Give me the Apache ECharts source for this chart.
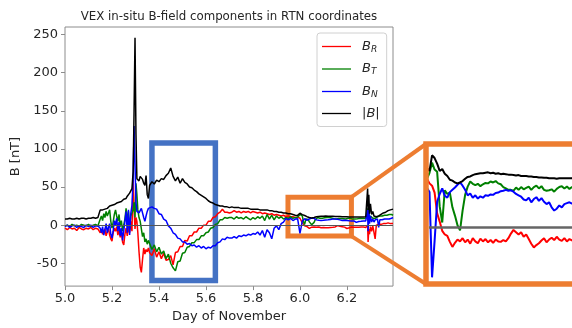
<!DOCTYPE html>
<html><head><meta charset="utf-8">
<script src="https://cdn.jsdelivr.net/npm/echarts@6/dist/echarts.min.js"></script>
<style>html,body{margin:0;padding:0;background:#fff}#c{width:572px;height:328px}</style>
</head><body><div id="c"></div>
<script>
// ---- data ----
const days = [
  5.00,5.01,5.02,5.03,5.04,5.05,5.06,5.07,5.08,5.09,5.10,5.11,5.12,5.13,5.14,
  5.150,5.155,5.160,5.165,5.170,5.175,5.180,5.185,5.190,5.195,5.200,5.205,5.210,5.215,5.220,5.225,5.230,5.235,5.240,5.245,5.250,5.255,5.260,5.265,5.270,5.275,5.280,5.285,
  5.290,5.294,5.298,5.302,5.306,5.310,5.315,5.320,5.325,5.330,5.335,5.340,5.345,5.350,5.355,
  5.36,5.37,5.38,5.39,5.40,5.41,5.42,5.43,5.44,5.45,5.46,5.47,5.48,5.49,5.50,5.51,5.52,5.53,5.54,5.55,5.56,5.57,5.58,5.59,5.60,5.61,5.62,5.63,5.64,5.65,5.66,5.67,5.68,5.69,5.70,
  5.71,5.72,5.73,5.74,5.75,5.76,5.77,5.78,5.79,5.80,5.81,5.82,5.83,5.84,5.85,5.86,5.87,5.88,5.89,5.90,5.91,5.92,5.93,5.94,5.95,5.96,5.97,5.98,
  5.990,5.995,6.000,6.005,6.010,6.015,6.020,6.025,6.030,6.035,6.040,6.045,6.050,6.055,6.060,6.065,6.070,6.075,6.080,6.085,6.090,6.095,6.100,6.105,6.110,6.115,6.120,6.125,6.130,6.135,6.140,6.145,6.150,6.155,6.160,6.165,6.170,6.175,6.180,6.185,6.190,6.195,6.200,6.205,6.210,6.215,6.220,6.225,6.230,6.235,6.240,6.245,6.250,6.255,6.260,6.265,6.270,6.275,
  6.280,6.285,6.288,6.290,6.293,6.296,6.300,6.305,6.310,6.315,6.320,6.325,6.330,6.335,6.340,6.345,6.350,6.355,6.360,6.365,6.370,6.375,6.380,6.385,6.390,6.396
];
const bR = [
  -4,-6,-3,-5,-4,-7,-3,-5,-6,-4,-5,-3,-6,-4,-5,
  -10,-6,-12,-8,-5,-14,-9,-4,-13,-18,-21,-10,-4,-8,-2,-13,-6,-16,-8,-22,-26,-12,-4,-14,-2,-10,5,-8,
  60,20,-5,10,5,-10,-35,-55,-62,-45,-30,-38,-32,-35,-30,
  -36,-40,-31,-42,-35,-44,-37,-46,-45,-40,-52,-36,-35,-28,-28,-20,-21,-14,-14,-9,-9,-4,-4,0,0,5,5,10,11,15,17,21,17,17,16,
  17,19,17,18,16,18,17,18,16,18,17,16,17,15,16,15,14,15,13,14,13,12,13,11,12,11,11,10,
  10.5,9.5,9,7.5,3,1.2,-0.8,-1.6,-1.9,-3.2,-4.3,-3.4,-2.7,-3.1,-2.4,-3.3,-2.7,-3.6,-2.4,-3.1,-3.5,-2.5,-3.1,-2.6,-3.3,-2.8,-3.4,-2.7,-3.1,-3.2,-2.8,-3.1,-2.4,-1.4,-0.6,-1.1,-1.6,-1.1,-2.1,-1.6,-2.6,-3.6,-4.4,-3.9,-3.5,-2.9,-2.4,-3.3,-2.7,-2.3,-2.8,-2.1,-2.7,-3,-2.4,-3.1,-2.6,-2.9,
  -3,-4,0,-22,-5,-12,-2,-8,-1,-3,-18,0,-2,1,-1,1,0,2,1,2,1,3,2,2,3,2
];
const bT = [
  -1,0,-2,1,-1,0,-2,1,0,-1,1,-2,0,1,-1,
  8,12,6,15,10,18,12,16,20,5,-4,4,14,20,12,5,14,-2,6,-8,-10,8,22,4,18,-6,12,16,
  20,30,10,55,40,20,10,5,-5,-15,-10,-22,-18,-25,-20,
  -22,-32,-26,-35,-29,-38,-34,-44,-38,-50,-56,-60,-48,-47,-37,-36,-29,-28,-23,-23,-19,-19,-14,-14,-10,-9,-4,-3,1,2,7,7,10,9,10,
  10,8,11,9,10,8,11,9,7,10,8,11,9,12,6,14,8,13,7,12,9,11,8,10,9,11,9,10,
  10.5,11.8,14,12.5,12,4.5,1,8,7.2,7.5,4.3,2.5,0.4,-0.7,3.6,7,8.8,9.9,9.4,9.1,9.4,8.9,9.3,9.6,9.5,9.9,9.7,10,9.5,9.3,8.7,8.4,8.1,8.1,7.9,8.6,8.1,8.7,8.2,8.5,8.8,8.1,8.7,9,8.4,8.9,8.1,7.9,8,8.2,7.7,8.3,8.7,8.9,8.4,8.8,8.3,8.7,
  8.5,10,22,5,18,8,12,10,9,11,9,10,11,10,12,11,12,11,13,12,13,12,14,13,14,13
];
const bN = [
  -2,0,-3,-1,0,-3,-1,-2,-3,0,-2,0,-3,-1,-1,
  -4,-10,-2,-13,-6,2,-10,-3,2,-12,-17,-8,6,0,9,-8,4,-14,-4,-20,-21,5,18,-10,20,-13,15,26,
  60,130,80,30,18,20,16,18,22,20,10,5,12,18,22,
  20,24,22,21,15,14,8,6,-1,-4,-10,-12,-17,-18,-22,-22,-25,-24,-27,-26,-29,-27,-30,-28,-31,-29,-30,-27,-27,-23,-22,-18,-19,-16,-17,
  -17,-15,-17,-14,-15,-13,-14,-12,-13,-11,-12,-9,-13,-7,-16,-6,-10,-18,-4,-1,-6,2,4,9,7,9,6,8,
  8.5,7.6,-10.9,-3,5.5,7.2,8.4,6.8,6.4,7.6,8.1,8.6,9.2,9.7,9,8.1,6.9,7.3,6.4,6.9,6.2,6.7,6.4,6.9,6.8,7.1,7,7.4,7.5,7.8,7.9,8.1,7.9,8,7.7,7.2,6.9,6.6,6,5.8,6.4,5.4,6.1,6.5,5.7,6.3,5.5,5,5.4,4.3,3.6,4,4.7,4.3,5,5.2,5.4,5.1,
  5.5,6,20,-8,22,2,12,4,8,4,7,6,8,-3,7,8,7,9,8,9,8,9,8,10,9,10
];
const bMag = [
  8,8,9,8,8,9,8,9,9,8,9,9,10,9,10,
  20,21,20,22,21,23,22,24,25,24,26,25,27,26,29,28,30,32,31,33,34,33,35,38,36,42,40,48,
  70,150,246,120,61,60,58,64,65,60,55,52,65,40,35,
  52,57,54,59,57,61,60,65,68,75,64,58,63,55,61,56,54,50,49,46,44,41,39,37,35,32,30,29,27,26,25,25,24,24,23,
  24,23,23,23,22,22,22,22,21,21,21,21,20,20,20,20,19,19,18,18,17,17,16,16,15,15,14,13,
  12.8,12.2,15.6,15,13.8,12.2,12.6,11.6,11.1,10.3,10.1,9.7,9.5,9.7,10,10.5,10.9,11,11.3,11.5,11.6,11.7,11.7,11.8,11.9,11.7,11.8,11.6,11.7,11.5,11.6,11.5,11.4,11.4,11.3,11.2,11.3,11.1,11.1,11.1,11,11,10.9,10.9,10.8,10.8,10.7,10.7,10.6,10.6,10.6,10.5,10.6,10.6,10.6,10.6,10.6,10.6,
  11,13,48,20,40,15,28,14,18,12,13,11,10,12,13,14,15,16,17,17,18,19,19,20,21,21
];
const seriesNames = ['BR', 'BT', 'BN', '|B|'];
const seriesValues = [bR, bT, bN, bMag];
const xTicks = [5.0, 5.2, 5.4, 5.6, 5.8, 6.0, 6.2];
const yTicks = [-50, 0, 50, 100, 150, 200, 250];
const xRange = [5.0, 6.396];
const yRange = [-80, 260];
const insetXRange = [5.994, 6.275];
const insetYRange = [-11.7, 17.4];
// annotation rectangles in data coordinates [x0, y0, x1, y1]
const blueBox = [5.37, 107.7, 5.64, -72.5];
const orangeBox = [5.949, 36.6, 6.219, -14.4];

[bR, bT, bN, bMag].forEach((a, i) => { if (a.length !== days.length) console.error('length mismatch', i, a.length, days.length); });

// ---- styles ----
const colors = ['#ff0000', '#008000', '#0000ff', '#000000'];
const FONT = 'DejaVu Sans';
const TXT = '#262626';
const SPINE = '#8c8c8c';
const BLUE_BOX = '#4472c4';
const ORANGE = '#ed7d31';
const mainGrid = { left: 65, top: 27, width: 328, height: 261 };
const insetGrid = { left: 429, top: 147, width: 143, height: 134 };

const chart = echarts.init(document.getElementById('c'), null, { renderer: 'canvas' });

const mainSeries = seriesNames.map((n, k) => ({
  name: n, type: 'line', xAxisIndex: 0, yAxisIndex: 0,
  data: days.map((d, i) => [d, seriesValues[k][i]]),
  symbol: 'none', showSymbol: false, clip: true,
  lineStyle: { color: colors[k], width: 1.5 }, itemStyle: { color: colors[k] },
  z: 2 + k,
  markLine: k === 3 ? { silent: true, symbol: ['none', 'none'], label: { show: false },
    lineStyle: { color: '#555', width: 1, type: 'solid' }, data: [{ yAxis: 0 }] } : undefined
}));
const insetSeries = seriesNames.map((n, k) => ({
  name: n, type: 'line', xAxisIndex: 1, yAxisIndex: 1,
  data: days.map((d, i) => [d, seriesValues[k][i]]),
  symbol: 'none', showSymbol: false, clip: true,
  lineStyle: { color: colors[k], width: 2 }, itemStyle: { color: colors[k] },
  z: 2 + k,
  markLine: k === 3 ? { silent: true, symbol: ['none', 'none'], label: { show: false },
    lineStyle: { color: '#666', width: 2.5, type: 'solid' }, data: [{ yAxis: 0 }] } : undefined
}));
const boxSeries = {
  name: 'boxes', type: 'line', xAxisIndex: 0, yAxisIndex: 0, data: [], z: 10, silent: true,
  markArea: { silent: true, label: { show: false }, data: [
    [{ coord: [blueBox[0], blueBox[1]], itemStyle: { color: 'rgba(0,0,0,0)', borderColor: BLUE_BOX, borderWidth: 5.5 } },
     { coord: [blueBox[2], blueBox[3]] }],
    [{ coord: [orangeBox[0], orangeBox[1]], itemStyle: { color: 'rgba(0,0,0,0)', borderColor: ORANGE, borderWidth: 5 } },
     { coord: [orangeBox[2], orangeBox[3]] }]
  ] }
};

const labelMap = { 'BR': '{b|B}{s|R}', 'BT': '{b|B}{s|T}', 'BN': '{b|B}{s|N}', '|B|': '|{b|B}|' };

chart.setOption({
  animation: false,
  backgroundColor: '#fff',
  legend: {
    data: seriesNames.map(n => ({ name: n, icon: 'rect' })),
    orient: 'vertical', left: 317, top: 33,
    padding: [6, 7, 6, 5], itemWidth: 29, itemHeight: 1.3, itemGap: 7.5,
    backgroundColor: '#fff', borderColor: '#d0d0d0', borderWidth: 1, borderRadius: 3,
    formatter: n => labelMap[n],
    textStyle: { fontFamily: FONT, fontSize: 13, color: TXT, padding: [0, 0, 0, 6], lineHeight: 14,
      rich: {
        b: { fontFamily: FONT, fontSize: 13, fontStyle: 'italic', color: TXT, lineHeight: 14 },
        s: { fontFamily: FONT, fontSize: 9, fontStyle: 'italic', color: TXT, padding: [6, 0, 0, 0], lineHeight: 14 }
      } }
  },
  grid: [
    Object.assign({ show: true, borderColor: SPINE, borderWidth: 1, backgroundColor: '#fff' }, mainGrid),
    Object.assign({ show: false }, insetGrid)
  ],
  xAxis: [{
    type: 'value', gridIndex: 0, min: xRange[0], max: xRange[1],
    axisLine: { show: false, onZero: false },
    axisTick: { show: true, length: 4, customValues: xTicks, lineStyle: { color: SPINE } },
    axisLabel: { customValues: xTicks, formatter: v => v.toFixed(1), fontFamily: FONT, fontSize: 13, color: TXT, margin: 6 },
    splitLine: { show: false },
    name: 'Day of November', nameLocation: 'middle', nameGap: 21,
    nameTextStyle: { fontFamily: FONT, fontSize: 13, color: TXT, verticalAlign: 'top' }
  }, {
    type: 'value', gridIndex: 1, min: insetXRange[0], max: insetXRange[1], show: false,
    axisLine: { onZero: false }, splitLine: { show: false }
  }],
  yAxis: [{
    type: 'value', gridIndex: 0, min: yRange[0], max: yRange[1],
    axisLine: { show: false, onZero: false },
    axisTick: { show: true, length: 4, customValues: yTicks, lineStyle: { color: SPINE } },
    axisLabel: { customValues: yTicks, fontFamily: FONT, fontSize: 13, color: TXT, margin: 7 },
    splitLine: { show: false },
    name: 'B [nT]', nameLocation: 'middle', nameGap: 43, nameRotate: 90,
    nameTextStyle: { fontFamily: FONT, fontSize: 13, color: TXT }
  }, {
    type: 'value', gridIndex: 1, min: insetYRange[0], max: insetYRange[1], show: false,
    axisLine: { onZero: false }, splitLine: { show: false }
  }],
  series: [...mainSeries, ...insetSeries, boxSeries]
});

// annotations derived from axes
const pTop = chart.convertToPixel({ gridIndex: 0 }, [orangeBox[2], orangeBox[1]]);
const pBot = chart.convertToPixel({ gridIndex: 0 }, [orangeBox[2], orangeBox[3]]);
const inset = { x: insetGrid.left - 3, y: insetGrid.top - 3, w: insetGrid.width + 60, h: insetGrid.height + 6 };
chart.setOption({
  graphic: [
    { type: 'text', z: 100, x: mainGrid.left + mainGrid.width / 2, y: 17,
      style: { text: 'VEX in-situ B-field components in RTN coordinates', fontFamily: FONT, fontSize: 11.8,
        fill: TXT, textAlign: 'center', textVerticalAlign: 'middle' } },
    { type: 'rect', z: 100, shape: { x: inset.x, y: inset.y, width: inset.w, height: inset.h },
      style: { fill: 'none', stroke: ORANGE, lineWidth: 5.5 } },
    { type: 'line', z: 100, shape: { x1: pTop[0], y1: pTop[1], x2: inset.x, y2: inset.y },
      style: { stroke: ORANGE, lineWidth: 4 } },
    { type: 'line', z: 100, shape: { x1: pBot[0], y1: pBot[1], x2: inset.x, y2: inset.y + inset.h },
      style: { stroke: ORANGE, lineWidth: 4 } }
  ]
});
</script>
</body></html>
